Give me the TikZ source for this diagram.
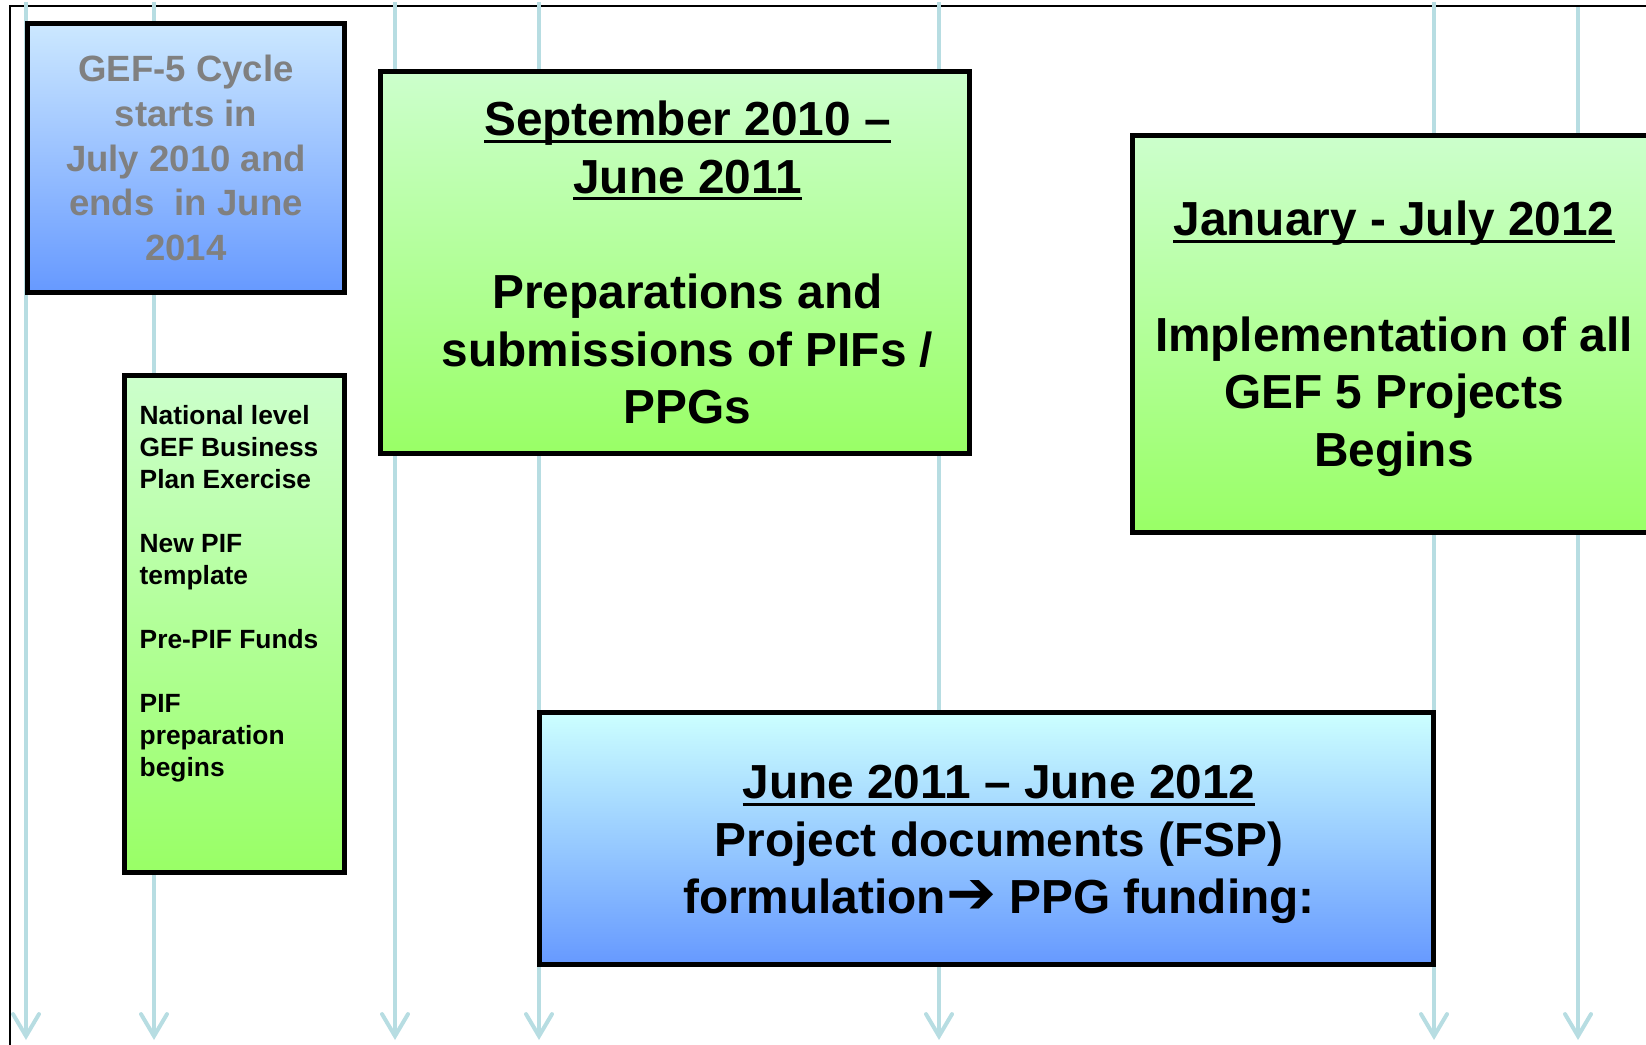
\documentclass[tikz,border=0pt]{standalone}
\usepackage{fontspec}
\setmainfont{Liberation Sans}
\newfontfamily\arrowfont{DejaVu Sans}
\usepackage{tikz}
\usetikzlibrary{arrows.meta, positioning, calc}
\definecolor{gefTeal}{RGB}{183,221,226}
\definecolor{gefSkyTop}{RGB}{204,232,255}
\definecolor{gefCyanTop}{RGB}{204,255,255}
\definecolor{gefBlue}{RGB}{102,153,255}
\definecolor{gefMint}{RGB}{204,255,204}
\definecolor{gefLime}{RGB}{153,255,102}
\definecolor{gefGrey}{RGB}{128,128,128}
% heading underline, crossing the descenders
\newcommand\gefline[1]{\leavevmode\setbox0\hbox{#1}%
  \rlap{\rule[-2.0pt]{\wd0}{0.8pt}}\box0}

\begin{document}
\begin{tikzpicture}[
    font=\bfseries,
    card/.style={draw=black, line width=0.5mm, rectangle, inner sep=0pt,
                 align=center},
    bluecard/.style={card, top color=gefCyanTop, bottom color=gefBlue},
    greencard/.style={card, top color=gefMint, bottom color=gefLime},
    big/.style={font=\bfseries\fontsize{13.6}{16.4}\selectfont,
                align=center, inner sep=0pt},
    tick/.style={draw=gefTeal, line width=0.4mm,
                 -{Straight Barb[length=2.2mm, width=2.6mm, line cap=round]}}
]
\useasboundingbox (0,0) rectangle (16.46,10.44);
\clip (0,0) rectangle (16.46,10.44);

% frame, open at the right and bottom
\draw[line width=0.25mm] (16.6,10.38) -- (0.10,10.38) -- (0.10,-0.1);

% timeline markers running down the page
\foreach \x/\t in {0.26/10.42, 1.54/10.42, 3.95/10.42, 5.39/10.42,
                   9.39/10.42, 14.34/10.42, 15.78/10.37}
  \draw[tick] (\x,\t) -- (\x,0.04);

% LEFT --- cycle summary and first steps
\node[bluecard, top color=gefSkyTop, minimum width=3.17cm, minimum height=2.69cm,
      font=\bfseries\fontsize{10.4}{12.7}\selectfont, text=gefGrey]
  (cycle) at (1.86,8.86)
  {GEF-5 Cycle\\starts in\\July 2010 and\\ends~ in June\\2014};

\node[greencard, minimum width=2.20cm, minimum height=4.97cm]
  (steps) at (2.345,4.20) {};
\node[anchor=north west, inner sep=0pt, align=left,
      font=\bfseries\fontsize{7.5}{9.1}\selectfont]
  (stepstext) at ($(steps.north west)+(0.17,-0.32)$)
  {National level\\GEF Business\\Plan Exercise\\[9.1pt]
   New PIF\\template\\[9.1pt]
   Pre-PIF Funds\\[9.1pt]
   PIF\\preparation\\begins};

% MIDDLE --- PIF / PPG phase
\node[greencard, minimum width=5.89cm, minimum height=3.82cm]
  (pif) at (6.75,7.815) {};
\node[big] (piftext) at ($(pif.center)+(0.125,0)$)
  {\gefline{September 2010 --}\\\gefline{June 2011}\\[16.4pt]
   Preparations and\\submissions of PIFs /\\PPGs};

% RIGHT --- implementation phase, runs off the page edge
\node[greencard, minimum width=5.23cm, minimum height=3.97cm]
  (impl) at (13.94,7.10) {};
\node[big] (impltext) at ($(impl.center)+(0,-0.05)$)
  {\gefline{January - July 2012}\\[16.4pt]
   Implementation of all\\GEF 5 Projects\\Begins};

% BOTTOM --- full size project formulation
\node[bluecard, minimum width=8.94cm, minimum height=2.52cm]
  (fsp) at (9.865,2.055) {};
\node[big] (fsptext) at ($(fsp.center)+(0.125,-0.06)$)
  {\gefline{June 2011 -- June 2012}\\Project documents (FSP)\\
   formulation{\arrowfont\fontsize{17}{16.4}\selectfont ➔} PPG funding:};

\end{tikzpicture}
\end{document}
